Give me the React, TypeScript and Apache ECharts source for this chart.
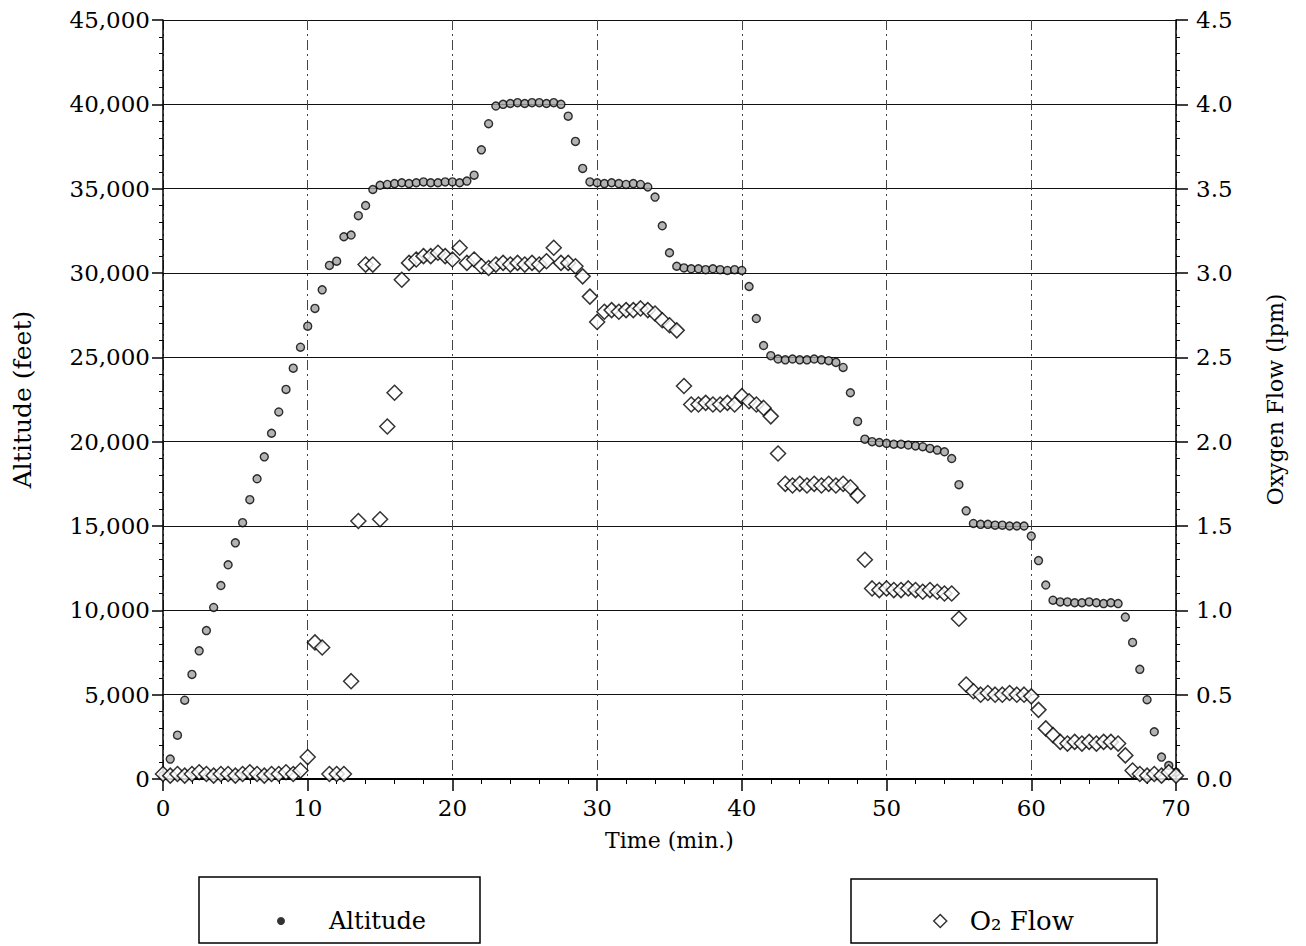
import { useEffect, useRef } from "react";
import * as echarts from "echarts";

// Time in minutes (sampled every 30 s)
const TIME_MIN = [
  0, 0.5, 1, 1.5, 2, 2.5, 3, 3.5, 4, 4.5, 5, 5.5, 6, 6.5, 7, 7.5, 8, 8.5, 9, 9.5,
  10, 10.5, 11, 11.5, 12, 12.5, 13, 13.5, 14, 14.5, 15, 15.5, 16, 16.5, 17, 17.5, 18, 18.5, 19, 19.5,
  20, 20.5, 21, 21.5, 22, 22.5, 23, 23.5, 24, 24.5, 25, 25.5, 26, 26.5, 27, 27.5, 28, 28.5, 29, 29.5,
  30, 30.5, 31, 31.5, 32, 32.5, 33, 33.5, 34, 34.5, 35, 35.5, 36, 36.5, 37, 37.5, 38, 38.5, 39, 39.5,
  40, 40.5, 41, 41.5, 42, 42.5, 43, 43.5, 44, 44.5, 45, 45.5, 46, 46.5, 47, 47.5, 48, 48.5, 49, 49.5,
  50, 50.5, 51, 51.5, 52, 52.5, 53, 53.5, 54, 54.5, 55, 55.5, 56, 56.5, 57, 57.5, 58, 58.5, 59, 59.5,
  60, 60.5, 61, 61.5, 62, 62.5, 63, 63.5, 64, 64.5, 65, 65.5, 66, 66.5, 67, 67.5, 68, 68.5, 69, 69.5,
  70,
];

// Altitude (feet)
const ALTITUDE_FT = [
  200, 1180, 2600, 4670, 6200, 7600, 8800, 10170, 11470, 12700, 14000, 15200, 16560, 17800, 19100, 20500,
  21760, 23100, 24360, 25600, 26850, 27900, 29000, 30450, 30700, 32150, 32250, 33400, 34000, 34950, 35200,
  35250, 35300, 35350, 35300, 35350, 35400, 35350, 35350, 35400, 35400, 35350, 35450,
  35800, 37300, 38850, 39900,
  40000, 40050, 40100, 40050, 40100, 40100, 40050, 40100, 40000,
  39300, 37800, 36200, 35400,
  35350, 35300, 35350, 35300, 35250, 35300, 35250, 35100,
  34500, 32800, 31200, 30400,
  30300, 30250, 30250, 30200, 30250, 30200, 30150, 30200, 30150,
  29200, 27300, 25700, 25100,
  24900, 24850, 24900, 24850, 24850, 24900, 24850, 24800, 24700,
  24400, 22900, 21200, 20150,
  20000, 19950, 19900, 19850, 19850, 19800, 19750, 19700, 19600, 19500, 19400,
  19000, 17450, 15900,
  15150, 15100, 15100, 15050, 15050, 15000, 15000, 15000,
  14400, 12950, 11500, 10600,
  10500, 10500, 10450, 10450, 10500, 10450, 10400, 10450, 10400,
  9600, 8100, 6500, 4700, 2800, 1300, 800, 400,
];

// Oxygen flow (lpm)
const O2_FLOW_LPM = [
  0.03, 0.02, 0.03, 0.02, 0.03, 0.04, 0.03, 0.02, 0.03, 0.03, 0.02, 0.03, 0.04, 0.03, 0.02, 0.03, 0.03, 0.04, 0.03, 0.05,
  0.13, 0.81, 0.78, 0.03, 0.03, 0.03, 0.58, 1.53, 3.05, 3.05, 1.54,
  2.09, 2.29, 2.96, 3.06, 3.08, 3.1, 3.1, 3.12, 3.1, 3.08, 3.15, 3.06, 3.08, 3.04, 3.03, 3.05,
  3.06, 3.05, 3.06, 3.05, 3.06, 3.05, 3.07, 3.15, 3.06, 3.06, 3.04,
  2.98, 2.86, 2.71,
  2.77, 2.78, 2.77, 2.78, 2.78, 2.79, 2.78, 2.76, 2.72, 2.69, 2.66,
  2.33, 2.22, 2.22, 2.23, 2.22, 2.22, 2.23, 2.22, 2.27, 2.24, 2.22, 2.2, 2.15, 1.93,
  1.75, 1.74, 1.75, 1.74, 1.75, 1.74, 1.75, 1.74, 1.75, 1.73, 1.68, 1.3,
  1.13, 1.12, 1.13, 1.12, 1.12, 1.13, 1.12, 1.11, 1.12, 1.11, 1.1, 1.1, 0.95, 0.56,
  0.52, 0.5, 0.51, 0.5, 0.5, 0.51, 0.5, 0.5, 0.49, 0.41, 0.3, 0.26,
  0.22, 0.21, 0.22, 0.21, 0.22, 0.21, 0.22, 0.22, 0.21, 0.14, 0.05,
  0.03, 0.02, 0.03, 0.02, 0.04, 0.02,
];

const SERIES_NAMES = ["Altitude", "O\u2082 Flow"];
const X_RANGE = [0, 70, 10];
const ALT_RANGE = [0, 45000, 5000];
const FLOW_RANGE = [0, 4.5, 0.5];

const FONT = "DejaVu Serif";

export default function App() {
  const ref = useRef<HTMLDivElement>(null);

  useEffect(() => {
    document.body.style.margin = "0";
    const chart = echarts.init(ref.current as HTMLDivElement, null, { renderer: "svg" });
    const tickText = { fontFamily: FONT, fontSize: 23, color: "#000" };
    chart.setOption({
      animation: false,
      backgroundColor: "#fff",
      grid: { left: 163, right: 130, top: 20, bottom: 167, containLabel: false },
      xAxis: {
        type: "value",
        min: X_RANGE[0],
        max: X_RANGE[1],
        interval: X_RANGE[2],
        name: "Time (min.)",
        nameLocation: "middle",
        nameGap: 50,
        nameTextStyle: { fontFamily: FONT, fontSize: 22, color: "#000" },
        axisLine: { show: true, lineStyle: { color: "#000", width: 2 } },
        axisTick: { show: true, length: 12, lineStyle: { color: "#000", width: 1.5 } },
        minorTick: { show: true, splitNumber: 5, length: 5, lineStyle: { color: "#000", width: 1 } },
        axisLabel: { ...tickText, margin: 17 },
        splitLine: { show: true, lineStyle: { color: "#444", width: 1, type: [10, 4, 2, 4] } },
      },
      yAxis: [
        {
          type: "value",
          position: "left",
          min: ALT_RANGE[0],
          max: ALT_RANGE[1],
          interval: ALT_RANGE[2],
          name: "Altitude (feet)",
          nameLocation: "middle",
          nameRotate: 90,
          nameGap: 128,
          nameTextStyle: { fontFamily: FONT, fontSize: 25, color: "#000" },
          axisLine: { show: true, lineStyle: { color: "#000", width: 1.5 } },
          axisTick: { show: true, length: 11, lineStyle: { color: "#000", width: 1.5 } },
          minorTick: { show: true, splitNumber: 5, length: 4, lineStyle: { color: "#000", width: 1 } },
          axisLabel: {
            ...tickText,
            margin: 13,
            formatter: (v: number) => v.toLocaleString("en-US"),
          },
          splitLine: { show: true, lineStyle: { color: "#111", width: 1.2 } },
        },
        {
          type: "value",
          position: "right",
          min: FLOW_RANGE[0],
          max: FLOW_RANGE[1],
          interval: FLOW_RANGE[2],
          name: "Oxygen Flow (lpm)",
          nameLocation: "middle",
          nameRotate: 90,
          nameGap: 88,
          nameTextStyle: { fontFamily: FONT, fontSize: 22, color: "#000" },
          axisLine: { show: true, lineStyle: { color: "#000", width: 1.5 } },
          axisTick: { show: true, length: 12, lineStyle: { color: "#000", width: 1.5 } },
          minorTick: { show: true, splitNumber: 5, length: 4, lineStyle: { color: "#000", width: 1 } },
          axisLabel: { ...tickText, margin: 20, formatter: (v: number) => v.toFixed(1) },
          splitLine: { show: false },
        },
      ],
      legend: [
        {
          data: [SERIES_NAMES[0]],
          left: 272,
          top: 904,
          icon: "circle",
          itemWidth: 8,
          itemHeight: 8,
          selectedMode: false,
          itemStyle: { color: "#000", borderWidth: 0 },
          textStyle: { fontFamily: FONT, fontSize: 24, color: "#000", padding: [0, 0, 0, 39] },
        },
        {
          data: [SERIES_NAMES[1]],
          left: 928,
          top: 903,
          icon: "diamond",
          itemWidth: 13,
          itemHeight: 13,
          selectedMode: false,
          itemStyle: { color: "#fff", borderColor: "#000", borderWidth: 1.5 },
          textStyle: { fontFamily: FONT, fontSize: 26, color: "#000", padding: [0, 0, 0, 18] },
        },
      ],
      graphic: [
        {
          type: "rect",
          shape: { x: 199, y: 877, width: 281, height: 66 },
          style: { fill: "none", stroke: "#000", lineWidth: 1.5 },
        },
        {
          type: "rect",
          shape: { x: 851, y: 879, width: 306, height: 64 },
          style: { fill: "none", stroke: "#000", lineWidth: 1.5 },
        },
      ],
      series: [
        {
          name: SERIES_NAMES[0],
          type: "scatter",
          yAxisIndex: 0,
          symbol: "circle",
          symbolSize: 8,
          itemStyle: { color: "#a0a0a0", borderColor: "#000", borderWidth: 1.4 },
          data: TIME_MIN.map((t, i) => [t, ALTITUDE_FT[i]]),
          z: 3,
        },
        {
          name: SERIES_NAMES[1],
          type: "scatter",
          yAxisIndex: 1,
          symbol: "diamond",
          symbolSize: 15,
          itemStyle: { color: "#fff", borderColor: "#000", borderWidth: 1.5 },
          data: TIME_MIN.map((t, i) => [t, O2_FLOW_LPM[i]]),
          z: 4,
        },
      ],
    });
    return () => chart.dispose();
  }, []);

  return <div ref={ref} style={{ width: 1306, height: 946 }} />;
}
